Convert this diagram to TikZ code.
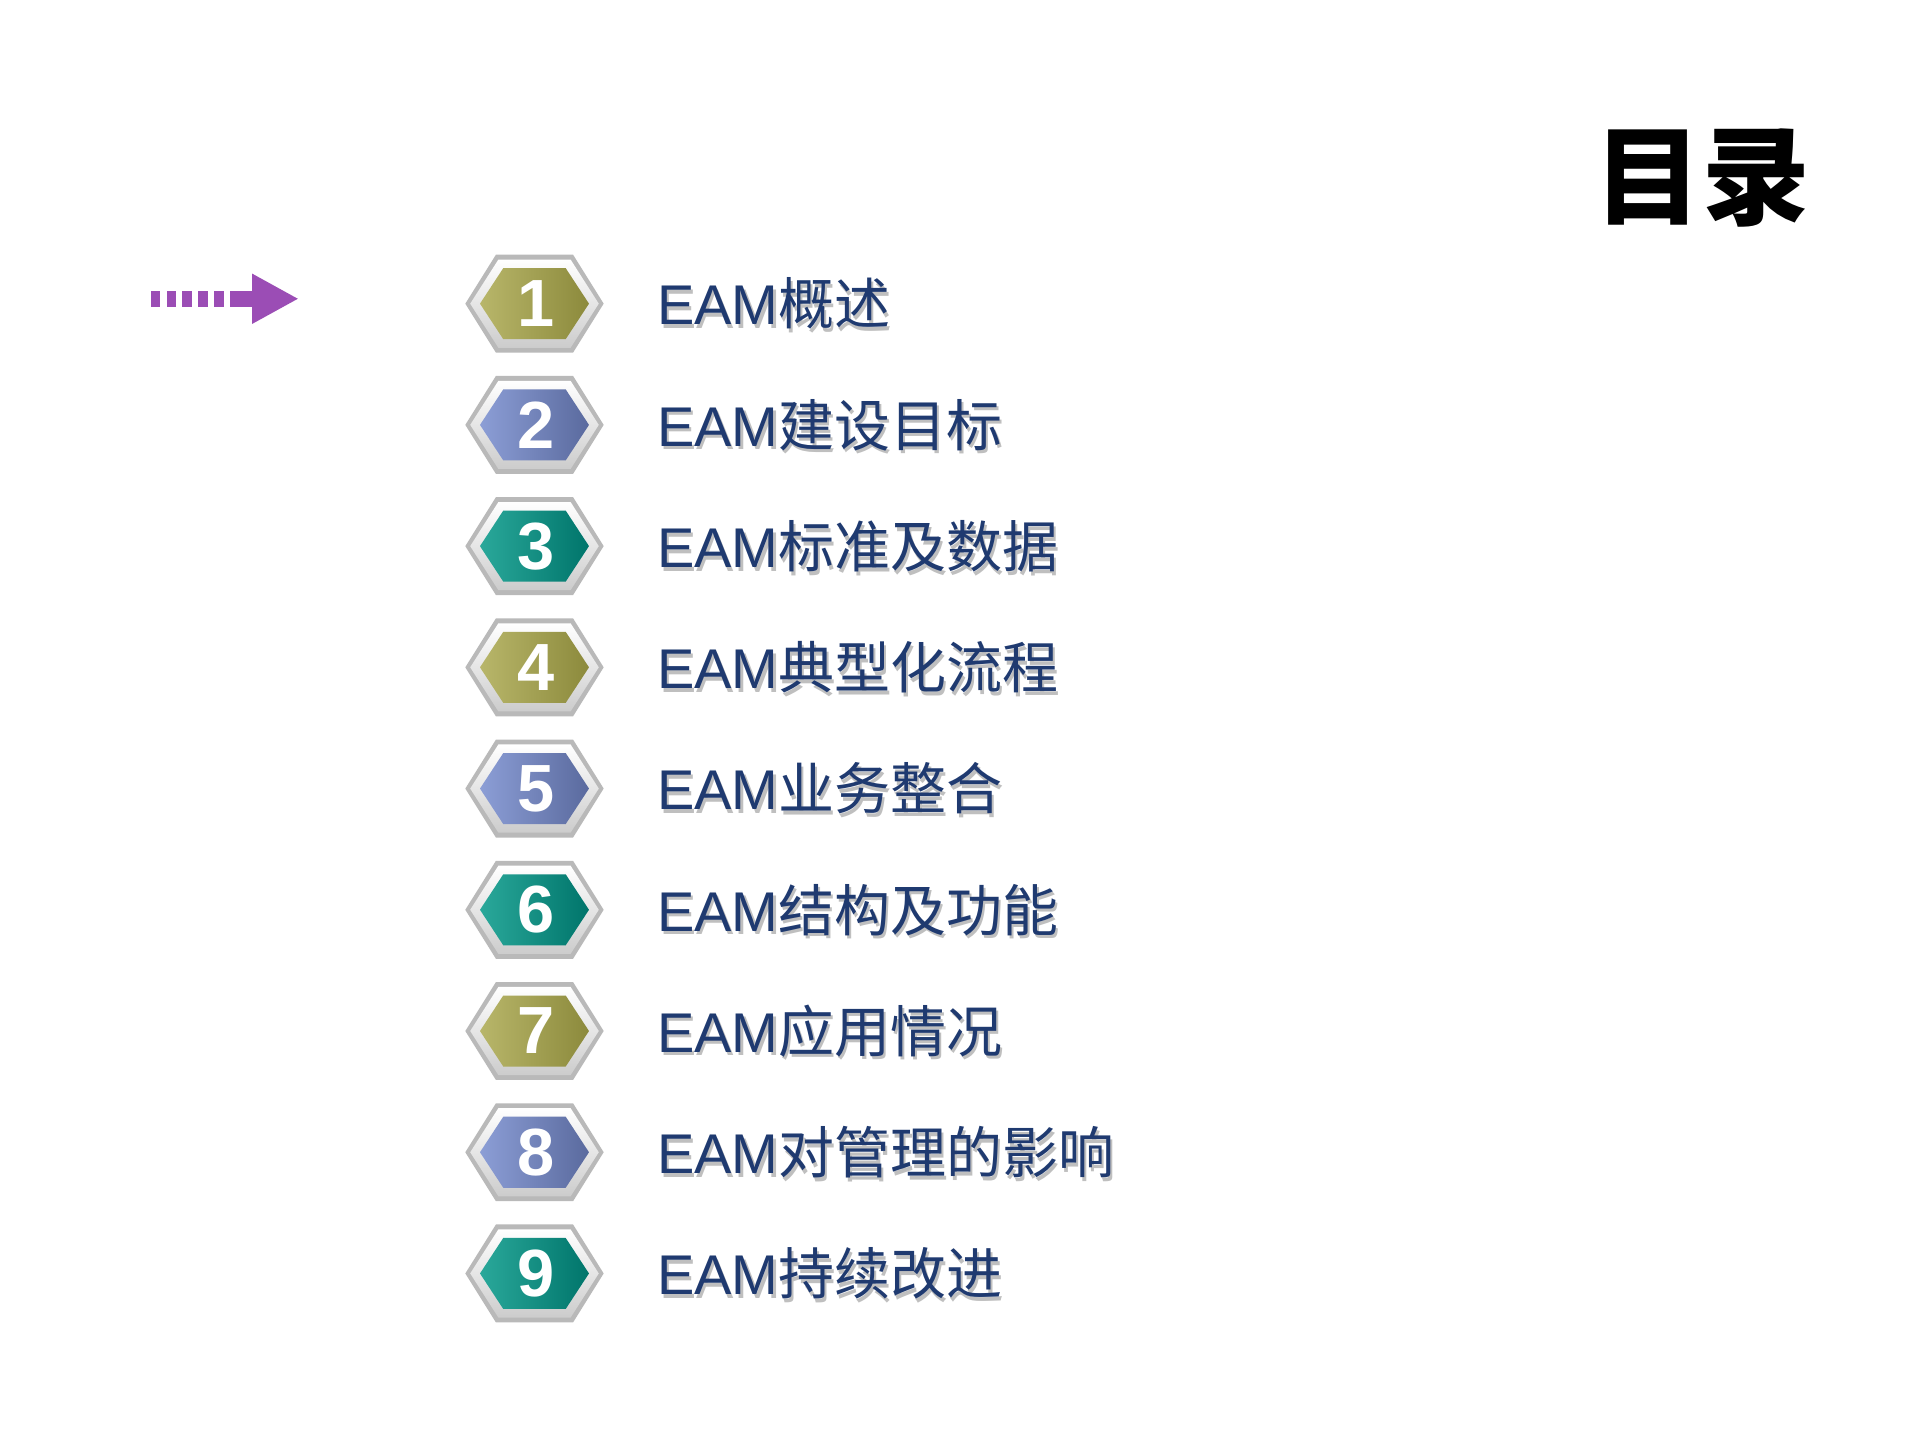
\documentclass[tikz,border=0pt]{standalone}
\usepackage{fontspec}
\setmainfont{Liberation Sans}
\newfontfamily\cjk{Noto Sans CJK SC}
\usetikzlibrary{arrows.meta}
\definecolor{olv}{HTML}{8C8A3C}
\definecolor{olvL}{HTML}{B8B66A}
\definecolor{blu}{HTML}{5A6A9E}
\definecolor{bluL}{HTML}{8C9ED6}
\definecolor{tea}{HTML}{00756B}
\definecolor{teaL}{HTML}{2AA89A}
\definecolor{txt}{HTML}{1F3A70}
\definecolor{pur}{HTML}{9B4DB5}
\tikzset{
  itemtext/.style={anchor=west,inner sep=0pt,text=txt,font=\fontsize{13}{15}\selectfont},
  numtext/.style={text=white,font=\bfseries\fontsize{15.5}{18}\selectfont},
}
\newcommand{\hexitem}[5]{% y, colL, colD, num, text
  \fill[gray!55] (380,#1) -- (405,#1-40) -- (468,#1-40) -- (493,#1) -- (468,#1+40) -- (405,#1+40) -- cycle;
  \shade[top color=white,bottom color=gray!40] (384,#1) -- (407,#1-36) -- (466,#1-36) -- (489,#1) -- (466,#1+36) -- (407,#1+36) -- cycle;
  \shade[left color=#2,right color=#3] (392,#1) -- (411,#1-29) -- (462,#1-29) -- (481,#1) -- (462,#1+29) -- (411,#1+29) -- cycle;
  \node[numtext] (n#4) at (438,#1) {#4};
  \node[itemtext,text=gray!50] at (536+2,#1+3) {EAM{\cjk #5}};
  \node[itemtext] (t#4) at (536,#1) {EAM{\cjk #5}};
}
\begin{document}
\begin{tikzpicture}[x=0.01cm,y=-0.01cm]
\useasboundingbox (0,0) rectangle (1568,1176);
\fill[white] (0,0) rectangle (1568,1176);
\node[font=\cjk\bfseries\fontsize{25}{27}\selectfont] (title) at (1390,145) {目录};
% arrow
\foreach \x in {123,136,149,162,175,188}{\fill[pur] (\x,238) rectangle (\x+8,251);}
\coordinate (as) at (196,244); \coordinate (ae) at (244,244);
\draw[pur,line width=0.13cm,-{Triangle[length=0.38cm,width=0.38cm]}] (as) -- (ae);
\hexitem{248}{olvL}{olv}{1}{概述}
\hexitem{347}{bluL}{blu}{2}{建设目标}
\hexitem{446}{teaL}{tea}{3}{标准及数据}
\hexitem{545}{olvL}{olv}{4}{典型化流程}
\hexitem{644}{bluL}{blu}{5}{业务整合}
\hexitem{743}{teaL}{tea}{6}{结构及功能}
\hexitem{842}{olvL}{olv}{7}{应用情况}
\hexitem{941}{bluL}{blu}{8}{对管理的影响}
\hexitem{1040}{teaL}{tea}{9}{持续改进}
\end{tikzpicture}
\end{document}
